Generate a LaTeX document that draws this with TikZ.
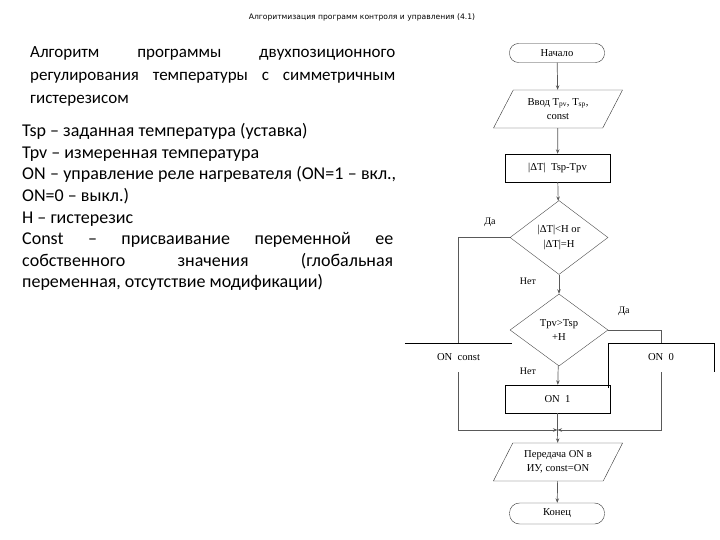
\documentclass[tikz,border=0pt]{standalone}
\usepackage{fontspec}
\setmainfont{Carlito}
\newfontfamily\ser{Liberation Serif}
\newfontfamily\dejavu{DejaVu Sans}
\usetikzlibrary{shapes.geometric,arrows.meta}
\begin{document}
\begin{tikzpicture}[x=1pt,y=-1pt,
  fc/.style={font=\ser\fontsize{10.6}{14.5}\selectfont, align=center, inner sep=0pt},
  term/.style={fc, draw=black!80, rectangle, rounded corners=9pt, minimum width=95pt, minimum height=19pt},
  io/.style={fc, draw=black!80, trapezium, trapezium left angle=58, trapezium right angle=122, trapezium stretches=true, minimum width=130pt, minimum height=38pt},
  proc/.style={fc, draw=black, rectangle, minimum width=105pt, minimum height=28pt},
  dec/.style={fc, draw=black!70, diamond, minimum width=98pt, minimum height=74pt},
  lbl/.style={font=\ser\fontsize{10}{11}\selectfont, inner sep=0pt},
  conn/.style={draw=black!65, line width=0.7pt},
  arr/.style={conn, -{Stealth[length=4.5pt,width=3.5pt]}},
  ln/.style={anchor=base west, inner sep=0pt}
]
\useasboundingbox (0,0) rectangle (720,540);
\fill[white] (0,0) rectangle (720,540);

% title
\node (title) at (362,17) {\dejavu\fontsize{7.6}{9}\selectfont Алгоритмизация программ контроля и управления (4.1)};

% heading
\begin{scope}[font=\fontsize{17}{20}\selectfont]
\node[ln] (h1) at (30,58) {\makebox[365pt][s]{Алгоритм программы двухпозиционного}};
\node[ln] (h2) at (30,81) {\makebox[365pt][s]{регулирования температуры с симметричным}};
\node[ln] (h3) at (30,104) {гистерезисом};
\end{scope}

% definitions
\begin{scope}[font=\fontsize{18}{21}\selectfont]
\node[ln] (t1) at (22,137) {Tsp – заданная температура (уставка)};
\node[ln] (t2) at (22,158.5) {Tpv – измеренная температура};
\node[ln] (t3) at (22,180) {\makebox[374pt][s]{ON – управление реле нагревателя (ON=1 – вкл.,}};
\node[ln] (t4) at (22,201.5) {ON=0 – выкл.)};
\node[ln] (t5) at (22,223) {H – гистерезис};
\node[ln] (t6) at (22,244.5) {\makebox[371pt][s]{Const – присваивание переменной ее}};
\node[ln] (t7) at (22,266) {\makebox[371pt][s]{собственного значения (глобальная}};
\node[ln] (t8) at (22,287.5) {переменная, отсутствие модификации)};
\end{scope}

% flowchart
\node[term] (start) at (557,53) {Начало};
\node[io] (inp) at (558,109) {Ввод T\textsubscript{pv}, T\textsubscript{sp},\\const};
\node[proc] (dt) at (557.5,168) {|ΔT|\ \ Tsp-Tpv};
\node[dec] (d1) at (559,237.5) {|ΔT|<H or\\|ΔT|=H};
\node[dec, minimum height=72pt] (d2) at (559,330) {Tpv>Tsp\\+H};
\node[proc] (on1) at (557.5,399) {ON\ \ 1};
\node[fc, minimum width=107pt, minimum height=29pt] (oncst) at (458.5,357.5) {ON\ \ const};
\node[fc, minimum width=106pt, minimum height=29pt] (on0) at (661,357.5) {ON\ \ 0};
\coordinate (m) at (557.5,430);
\node[io] (out) at (558,462) {Передача ON в\\ИУ, const=ON};
\node[term, minimum height=21pt, rounded corners=10pt] (end) at (557,513.5) {Конец};

% partial box edges
\draw[black] (oncst.north west) -- (oncst.north east);
\draw[black] (on0.south west) ++(0,16) -- (on0.north west) -- (on0.north east) -- (on0.south east);

% connectors
\draw[arr] (start) -- (inp);
\draw[arr] (inp) -- (dt);
\draw[arr] (dt) -- (d1);
\draw[arr] (d1) -- (d2);
\draw[arr] (d2) -- (on1);
\draw[conn] (d1.west) -| (oncst.north);
\draw[conn] (d2.east) -| (on0.north);
\draw[arr] (oncst.south) |- (m);
\draw[arr] (on0.south) |- (m);
\draw[conn] (on1) -- (m);
\draw[arr] (m) -- (out);
\draw[arr] (out) -- (end);

% branch labels
\node[lbl] (da1) at (490,222) {Да};
\node[lbl] (net1) at (528,281) {Нет};
\node[lbl] (da2) at (624,311) {Да};
\node[lbl] (net2) at (528,371) {Нет};
\end{tikzpicture}
\end{document}
